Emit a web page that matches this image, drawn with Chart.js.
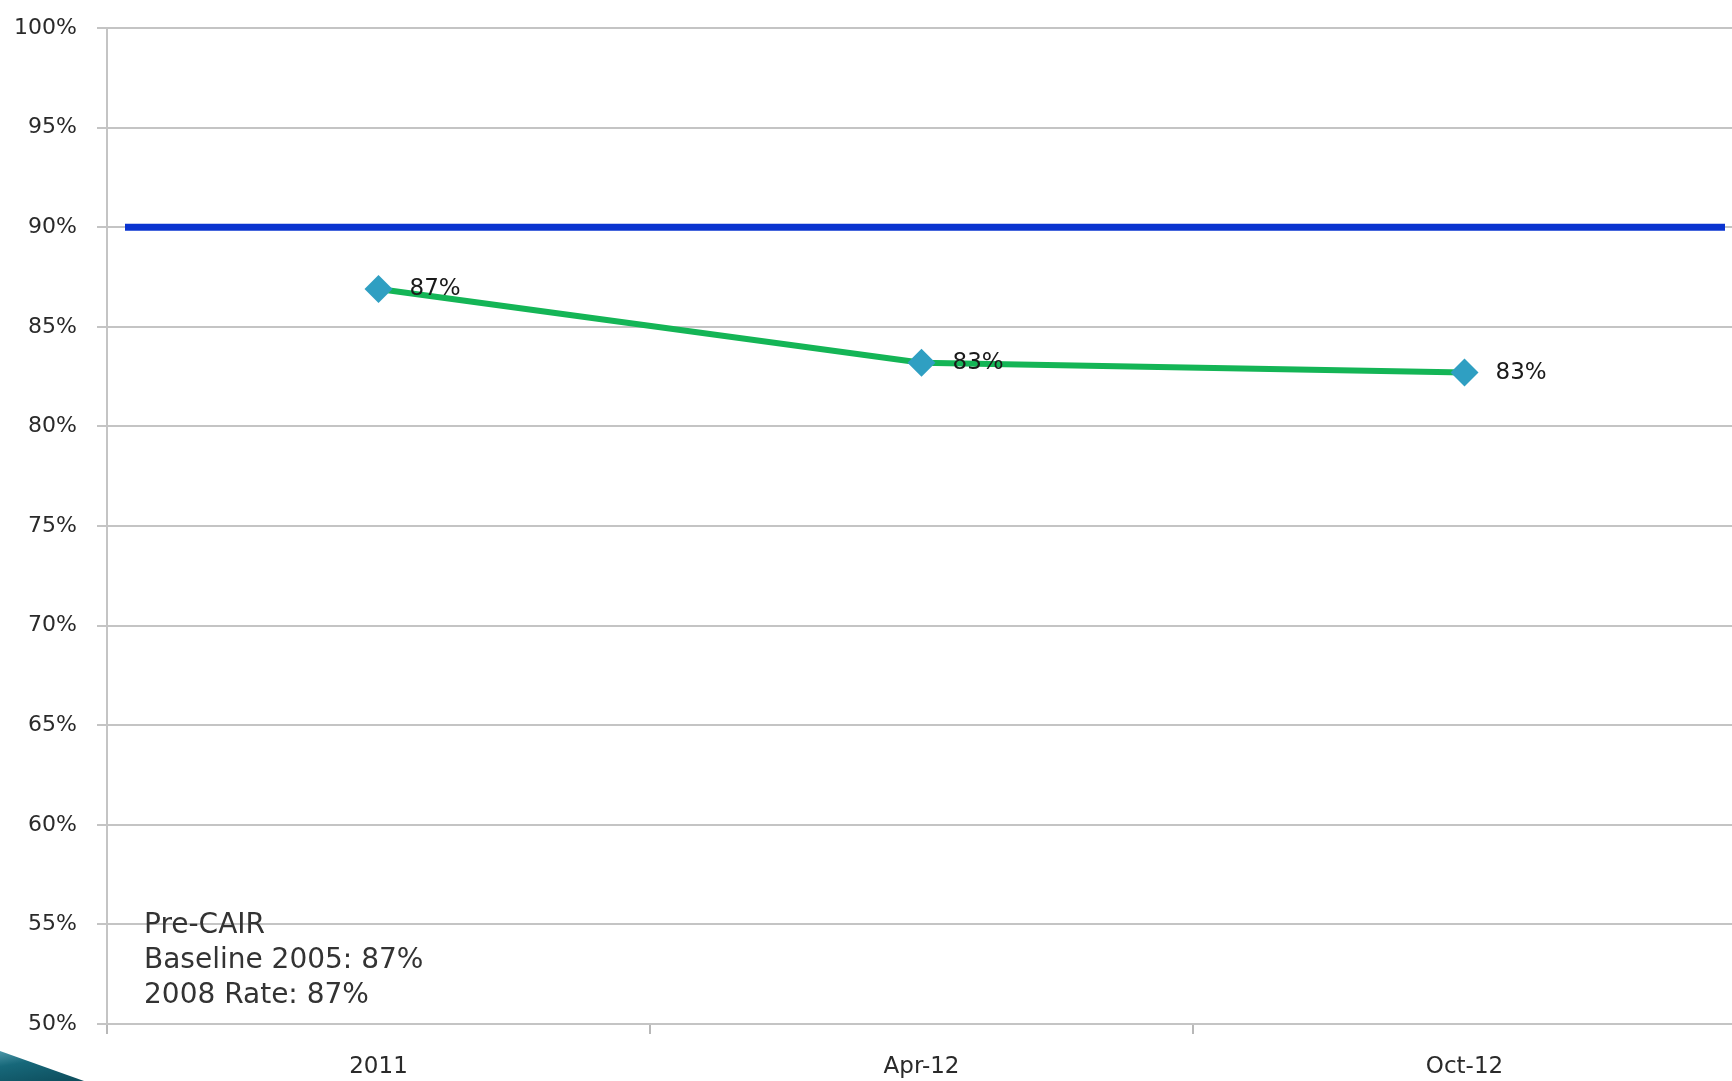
<!DOCTYPE html>
<html>
<head>
<meta charset="utf-8">
<script src="https://cdn.jsdelivr.net/npm/chart.js@4.4.0/dist/chart.umd.min.js"></script>
<style>
    html, body { margin: 0; padding: 0; background: #fff; overflow: hidden; }
    #wrap { position: relative; width: 1732px; height: 1081px; overflow: hidden; }
    #box { position: absolute; left: 0; top: 0; width: 1750px; height: 1081px; }
    #deco {
        position: absolute; left: 0; bottom: 0; width: 84px; height: 30px;
        background: linear-gradient(170deg, #4d97a8 0%, #17687a 35%, #0d4c5b 100%);
        clip-path: polygon(0 0, 100% 100%, 0 100%);
    }
</style>
</head>
<body>
<div id="wrap">
    <div id="box"><canvas id="chartTasa"></canvas></div>
    <div id="deco"></div>
</div>
<script>
// datos
const categorias = ["2011", "Apr-12", "Oct-12"];
const tasas = [86.9, 83.2, 82.7];
const META = 90;
const notas = ["Pre-CAIR", "Baseline 2005: 87%", "2008 Rate: 87%"];
const ticksY = [50, 55, 60, 65, 70, 75, 80, 85, 90, 95, 100];

const FUENTE = "'DejaVu Sans', sans-serif";

// linea de meta (90%) y etiquetas de datos
const pluginExtras = {
    id: 'extras',
    beforeDatasetsDraw(chart) {
        const { ctx, scales } = chart;
        const y = scales.y.getPixelForValue(META);
        ctx.save();
        ctx.strokeStyle = '#0a34d0';
        ctx.lineWidth = 7;
        ctx.beginPath();
        ctx.moveTo(125, y);
        ctx.lineTo(1725, y);
        ctx.stroke();
        ctx.restore();
    },
    afterDatasetsDraw(chart) {
        const { ctx, chartArea } = chart;
        const meta = chart.getDatasetMeta(0);
        ctx.save();
        ctx.font = "23px " + FUENTE;
        ctx.fillStyle = '#1a1a1a';
        ctx.textBaseline = 'middle';
        meta.data.forEach((pt, i) => {
            ctx.fillText(Math.round(tasas[i]) + '%', pt.x + 31, pt.y);
        });
        // cuadro de texto
        ctx.font = "28px " + FUENTE;
        ctx.fillStyle = '#333';
        ctx.textBaseline = 'alphabetic';
        notas.forEach((t, i) => {
            ctx.fillText(t, chartArea.left + 37, 933 + i * 35);
        });
        ctx.restore();
    }
};

const ctx = document.getElementById('chartTasa').getContext('2d');
window.myChart = new Chart(ctx, {
    type: 'line',
    data: {
        labels: categorias,
        datasets: [{
            data: tasas,
            borderColor: '#14b556',
            borderWidth: 6,
            pointStyle: 'rectRot',
            pointRadius: 14,
            pointBackgroundColor: '#2f9fc2',
            pointBorderWidth: 0,
            tension: 0
        }]
    },
    options: {
        responsive: true,
        maintainAspectRatio: false,
        animation: false,
        layout: { padding: { top: 28, right: 0, left: 0, bottom: 0 } },
        plugins: {
            legend: { display: false },
            tooltip: { enabled: false }
        },
        scales: {
            x: {
                offset: true,
                grid: {
                    offset: true,
                    drawOnChartArea: false,
                    drawTicks: true,
                    tickLength: 10,
                    color: '#b8b8b8',
                    lineWidth: 2
                },
                border: { display: true, color: '#c4c4c4', width: 2 },
                ticks: {
                    padding: 19,
                    color: '#2a2a2a',
                    font: { family: FUENTE, size: 23 },
                    maxRotation: 0
                },
                afterFit(scale) { scale.height = 57; }
            },
            y: {
                min: 50,
                max: 100,
                afterBuildTicks(scale) { scale.ticks = ticksY.map(v => ({ value: v })); },
                grid: {
                    color: '#c4c4c4',
                    lineWidth: 2,
                    tickLength: 10
                },
                border: { display: true, color: '#c4c4c4', width: 2 },
                ticks: {
                    padding: 20,
                    color: '#2a2a2a',
                    font: { family: FUENTE, size: 22 },
                    callback: function(value) { return value + '%'; }
                },
                afterFit(scale) {
                    scale.width = 107;
                    scale.paddingTop = 0;
                    scale.paddingBottom = 0;
                }
            }
        }
    },
    plugins: [pluginExtras]
});
</script>
</body>
</html>
